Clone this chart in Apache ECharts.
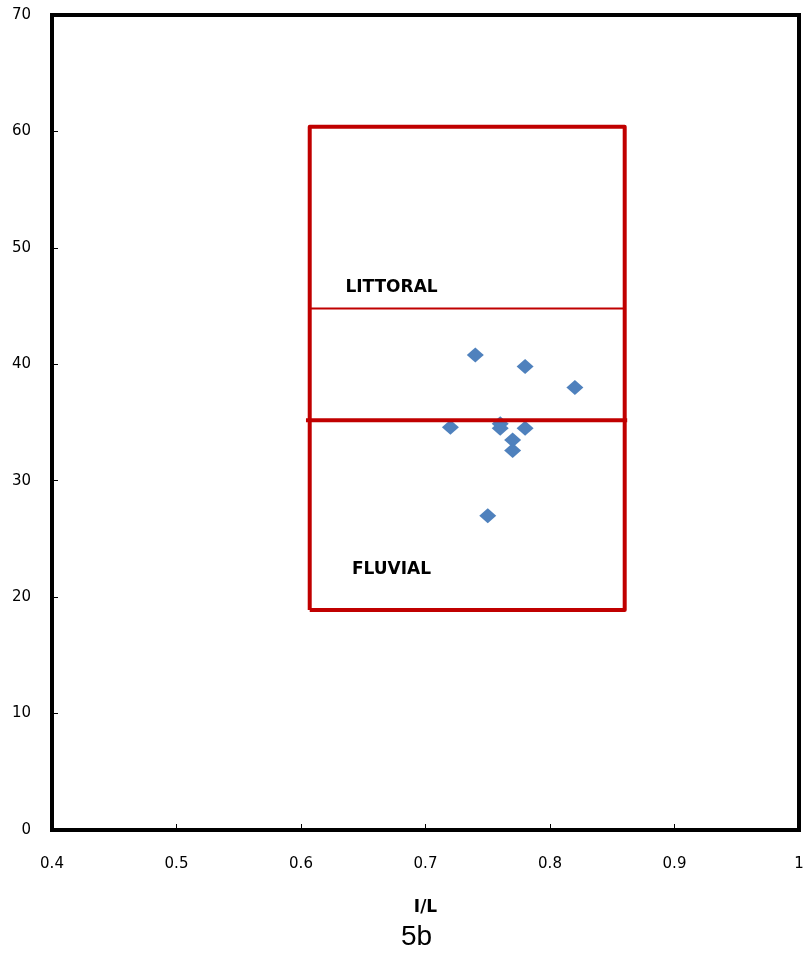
<!DOCTYPE html>
<html>
<head>
    <meta charset="UTF-8">
    <title>5b</title>
    <script src="https://cdn.jsdelivr.net/npm/echarts@6/dist/echarts.min.js"></script>
    <style>
        html, body { margin: 0; padding: 0; background: #fff; }
        #main { width: 803px; height: 953px; }
    </style>
</head>
<body>
<div id="main"></div>
<script type="text/javascript">
    // sample points, I/L vs y
    var pointsX = [0.74, 0.78, 0.82, 0.72, 0.76, 0.76, 0.78, 0.77, 0.77, 0.75];
    var pointsY = [40.8, 39.8, 38.0, 34.6, 34.9, 34.5, 34.5, 33.5, 32.6, 27.0];

    // red field box and dividing lines
    var boxX = [0.607, 0.86];
    var boxY = [18.9, 60.4];
    var littoralLineY = 44.8;
    var fluvialLineY = 35.2;
    var fluvialLineX = [0.604, 0.862];

    var regionNames = ['LITTORAL', 'FLUVIAL'];
    var regionX = [0.6727, 0.6727];
    var regionY = [46.6, 22.4];

    var xTicks = [0.4, 0.5, 0.6, 0.7, 0.8, 0.9, 1];
    var yTicks = [0, 10, 20, 30, 40, 50, 60, 70];

    var pts = pointsX.map(function (x, i) { return [x, pointsY[i]]; });
    var box = [
        [boxX[0], boxY[0]], [boxX[0], boxY[1]], [boxX[1], boxY[1]],
        [boxX[1], boxY[0]], [boxX[0], boxY[0]]
    ];
    var labels = regionNames.map(function (n, i) {
        return { name: n, value: [regionX[i], regionY[i]] };
    });

    var myChart = echarts.init(document.getElementById('main'));
    var option = {
        animation: false,
        title: {
            text: '5b',
            left: 396,
            top: 918,
            textStyle: { fontFamily: 'Liberation Sans', fontSize: 28, fontWeight: 'normal', color: '#000' }
        },
        grid: {
            left: 52, right: 4, top: 15, bottom: 123,
            outerBoundsMode: 'none',
            containLabel: false,
            show: true, borderColor: '#000', borderWidth: 4
        },
        xAxis: {
            type: 'value',
            min: xTicks[0], max: xTicks[xTicks.length - 1], interval: 0.1,
            name: 'I/L', nameLocation: 'middle', nameGap: 69,
            nameTextStyle: { fontFamily: 'DejaVu Sans', fontSize: 17, fontWeight: 'bold', color: '#000' },
            axisLine: { lineStyle: { color: '#000', width: 4 } },
            axisTick: { inside: true, length: 6, lineStyle: { color: '#000', width: 1 } },
            axisLabel: {
                margin: 27, color: '#000', fontFamily: 'DejaVu Sans', fontSize: 15,
                formatter: function (v) { return String(Math.round(v * 10) / 10); }
            },
            splitLine: { show: false }
        },
        yAxis: {
            type: 'value',
            min: yTicks[0], max: yTicks[yTicks.length - 1], interval: 10,
            axisLine: { show: true, lineStyle: { color: '#000', width: 4 } },
            axisTick: { show: true, inside: true, length: 6, lineStyle: { color: '#000', width: 1 } },
            axisLabel: { margin: 21, color: '#000', fontFamily: 'DejaVu Sans', fontSize: 15 },
            splitLine: { show: false }
        },
        series: [
            {
                type: 'scatter',
                data: pts,
                symbol: 'diamond',
                symbolSize: [17, 15],
                itemStyle: { color: '#4F81BD', opacity: 1 },
                z: 2
            },
            {
                type: 'line',
                data: box,
                symbol: 'none',
                lineStyle: { color: '#C00000', width: 4, join: 'round' },
                z: 3
            },
            {
                type: 'line',
                data: [[boxX[0], littoralLineY], [boxX[1], littoralLineY]],
                symbol: 'none',
                lineStyle: { color: '#C00000', width: 2 },
                z: 3
            },
            {
                type: 'line',
                data: [[fluvialLineX[0], fluvialLineY], [fluvialLineX[1], fluvialLineY]],
                symbol: 'none',
                lineStyle: { color: '#C00000', width: 4 },
                z: 3
            },
            {
                type: 'scatter',
                data: labels,
                symbolSize: 0,
                itemStyle: { opacity: 1 },
                label: {
                    show: true, position: 'inside', formatter: '{b}',
                    fontFamily: 'DejaVu Sans', fontSize: 17, fontWeight: 'bold',
                    color: '#000', textBorderWidth: 0
                },
                z: 4
            }
        ]
    };
    myChart.setOption(option);
</script>
</body>
</html>
